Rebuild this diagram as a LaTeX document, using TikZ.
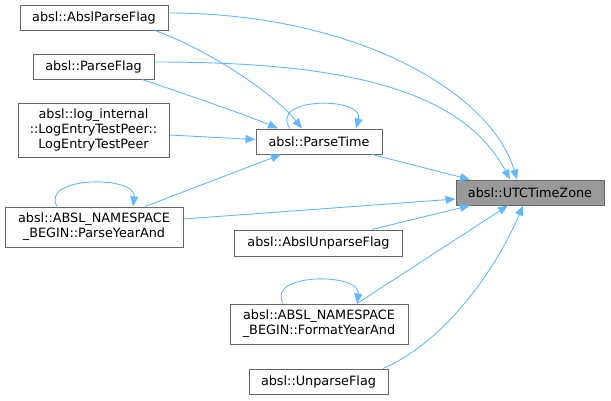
\documentclass[tikz,border=0pt]{standalone}
\usepackage{fontspec}
\setmainfont{DejaVu Sans}
\usepackage{xcolor}
\usetikzlibrary{arrows.meta}
\definecolor{edgeblue}{HTML}{63B8FF}
\definecolor{boxgray}{HTML}{666666}
\definecolor{hlgray}{HTML}{999999}

\begin{document}
\begin{tikzpicture}[
  x=1pt, y=-1pt,
  fn/.style={draw=boxgray, fill=white, line width=1pt, align=center, inner sep=0pt,
    minimum width=#1, minimum height=25pt, font=\fontsize{12.8pt}{15pt}\selectfont},
  fn/.default={148pt},
  hl/.style={fn=#1, fill=hlgray},
  arrow/.style={-{Triangle[length=10pt,width=8pt]}, draw=edgeblue, line width=0.9pt},
]
\useasboundingbox (0,0) rectangle (611,400);

\node[fn=148pt] (apf) at (94,17.5) {absl::AbslParseFlag};
\node[fn=121pt] (pf) at (93.5,66.5) {absl::ParseFlag};
\node[fn=151pt, minimum height=54pt] (letp) at (93.5,130) {absl::log\_internal\\::LogEntryTestPeer::\\LogEntryTestPeer};
\node[fn=178pt, minimum height=40pt] (pya) at (94,227) {absl::ABSL\_NAMESPACE\\\_BEGIN::ParseYearAnd};

\node[fn=126pt] (pt) at (319,141.5) {absl::ParseTime};
\node[fn=168pt, minimum height=26pt] (auf) at (318.5,243) {absl::AbslUnparseFlag};
\node[fn=178pt, minimum height=40pt] (fya) at (319,324) {absl::ABSL\_NAMESPACE\\\_BEGIN::FormatYearAnd};
\node[fn=139pt] (uf) at (318.5,381.5) {absl::UnparseFlag};

\node[hl=148pt] (utc) at (530,192.5) {absl::UTCTimeZone};

\draw[arrow] ([yshift=4.5pt]apf.east) .. controls +(182,0) and +(-27,-90) .. ([xshift=-13pt]utc.north);
\draw[arrow] ([yshift=4.5pt]pf.east) .. controls +(176,0) and +(-50,-95) .. ([xshift=-20pt]utc.north);
\draw[arrow] ([xshift=61pt]apf.south) .. controls +(55,20) and +(-27,-34) .. ([xshift=-17pt]pt.north);
\draw[arrow] ([xshift=48.5pt]pf.south) .. controls +(48,16) and +(-28,-12) .. ([xshift=-41pt]pt.north);
\draw[arrow] ([yshift=-5pt]letp.east) -- ([yshift=2pt]pt.west);
\draw[arrow] ([xshift=51pt]pya.north) -- ([xshift=-38pt]pt.south);
\draw[arrow] ([xshift=-29pt]pt.north) .. controls +(-22,-32) and +(9,-32) .. ([xshift=37pt]pt.north);
\draw[arrow] ([xshift=-37pt]pya.north) .. controls +(-17,-31) and +(4,-31) .. ([xshift=39pt]pya.north);

\draw[arrow] ([xshift=53pt]pt.south) -- ([xshift=-60pt]utc.north);
\draw[arrow] ([yshift=8pt]pya.east) -- ([yshift=-6.5pt]utc.west);
\draw[arrow] ([xshift=53.5pt]auf.north) -- ([xshift=-60pt]utc.south);
\draw[arrow] ([xshift=-36pt]fya.north) .. controls +(-17,-31) and +(4,-31) .. ([xshift=38pt]fya.north);
\draw[arrow] ([xshift=38pt]fya.north) -- ([xshift=-22pt]utc.south);
\draw[arrow] ([xshift=64.5pt]uf.north) .. controls +(67,-29) and +(-23,55) .. ([xshift=-7pt]utc.south);
\end{tikzpicture}
\end{document}
